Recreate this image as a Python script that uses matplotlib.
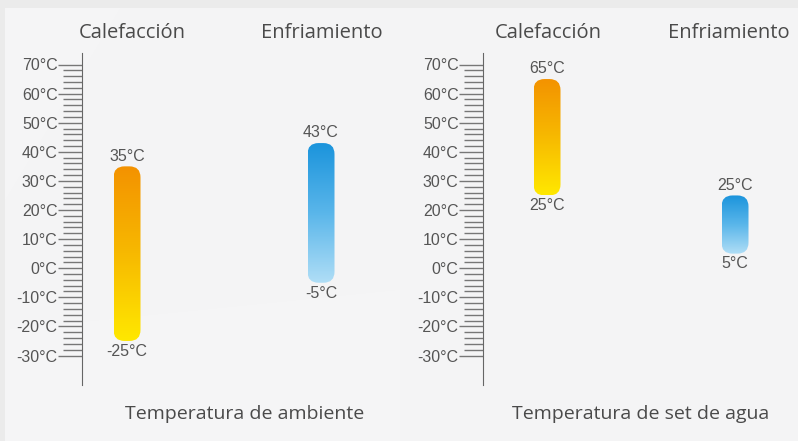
"""Rango de temperatura de funcionamiento: ambiente y agua."""
import matplotlib
matplotlib.use("Agg")
import matplotlib.pyplot as plt
from matplotlib.patches import FancyBboxPatch, Rectangle
from matplotlib.colors import LinearSegmentedColormap
from matplotlib.ticker import FixedLocator, FuncFormatter
import numpy as np

# ── data ─────────────────────────────────────────────────────────────
modes = ["Calefacción", "Enfriamiento"]
panels = ["Temperatura de ambiente", "Temperatura de set de agua"]
ambient_low = [-25, -5]
ambient_high = [35, 43]
water_low = [25, 5]
water_high = [65, 25]
major_ticks = [-30, -20, -10, 0, 10, 20, 30, 40, 50, 60, 70]

# ── layout (pixels of the 798x441 canvas) ────────────────────────────
W, H = 798, 441
PX_PER_DEG = 2.91          # vertical scale
Y70 = 64.5                 # pixel row of 70°C
panel_x0 = [0, 399]
axis_x = [82, 483]
bar_x = [[127, 321], [547, 735]]
head_x = [[132, 322], [548, 729]]
title_x = [245, 641]
BAR_W = 27
RADIUS = 11

ORANGE = LinearSegmentedColormap.from_list("heat", ["#ffe800", "#f7b900", "#f39200"])
BLUE = LinearSegmentedColormap.from_list("cool", ["#b0def6", "#5ab6ea", "#1b94dc"])

TXT = "#4a4a4a"
LBL = "#555555"
NUM_FONT = ["Liberation Sans", "DejaVu Sans"]
HEAD_FONT = ["Open Sans", "DejaVu Sans"]

y_top = 70 + Y70 / PX_PER_DEG
y_bot = 70 - (H - Y70) / PX_PER_DEG


def py(pix):
    """pixel row -> °C on the shared vertical scale"""
    return y_top - pix / PX_PER_DEG


fig = plt.figure(figsize=(W / 100, H / 100), dpi=100)
fig.patch.set_facecolor("#ebebeb")
bg = fig.add_axes([0, 0, 1, 1], zorder=-5)
bg.set_xlim(0, W); bg.set_ylim(H, 0); bg.axis("off")
bg.add_patch(Rectangle((5, 8), W, H, facecolor="#f4f4f5", edgecolor="none"))
# faint light sheen like the photo backdrop
bg.fill([5, 5, 150, 400, 400], [330, 441, 441, 441, 290], color="white", alpha=0.18, lw=0)
bg.fill([5, 5, 120], [8, 200, 8], color="white", alpha=0.15, lw=0)


def draw_bar(ax, x, lo, hi, cmap):
    patch = FancyBboxPatch((x - BAR_W / 2, lo), BAR_W, hi - lo,
                           boxstyle=f"round,pad=0,rounding_size={RADIUS}",
                           mutation_aspect=1 / PX_PER_DEG,
                           facecolor="none", edgecolor="none")
    ax.add_patch(patch)
    grad = np.linspace(0, 1, 256).reshape(-1, 1)
    im = ax.imshow(grad, cmap=cmap, origin="lower", aspect="auto",
                   extent=[x - BAR_W / 2, x + BAR_W / 2, lo, hi], zorder=3)
    im.set_clip_path(patch)
    ax.annotate(f"{hi}°C", (x, hi), xytext=(0, 2), textcoords="offset points",
                ha="center", va="bottom", fontsize=11.5, color=LBL, family=NUM_FONT)
    ax.annotate(f"{lo}°C", (x, lo), xytext=(0, -2), textcoords="offset points",
                ha="center", va="top", fontsize=11.5, color=LBL, family=NUM_FONT)


datasets = [(ambient_low, ambient_high), (water_low, water_high)]
for p in range(2):
    x0 = panel_x0[p]
    ax = fig.add_axes([x0 / W, 0, 399 / W, 1])
    ax.set_facecolor("none")
    lows, highs = datasets[p]
    for i, cmap in enumerate([ORANGE, BLUE]):
        draw_bar(ax, bar_x[p][i], lows[i], highs[i], cmap)

    # thermometer scale
    for s in ["top", "right", "bottom"]:
        ax.spines[s].set_visible(False)
    ax.spines["left"].set_position(("data", axis_x[p]))
    ax.spines["left"].set_bounds(-40, 74)
    ax.spines["left"].set_color("#666666")
    ax.yaxis.set_major_locator(FixedLocator(major_ticks))
    ax.yaxis.set_minor_locator(FixedLocator(
        [v for v in range(-30, 71, 2) if v % 10 != 0]))
    ax.yaxis.set_major_formatter(FuncFormatter(lambda v, _: f"{v:.0f}°C"))
    ax.yaxis.set_minor_formatter(FuncFormatter(lambda v, _: ""))
    ax.tick_params(axis="y", which="major", length=17.5, width=1, color="#777777",
                   pad=0, labelsize=11.5, labelcolor=LBL)
    ax.tick_params(axis="y", which="minor", length=13.5, width=1, color="#777777")
    for t in ax.get_yticklabels():
        t.set_family(NUM_FONT)
    ax.set_xticks([])
    ax.set_xlim(x0, x0 + 399)
    ax.set_ylim(y_bot, y_top)

    for i, m in enumerate(modes):
        ax.text(head_x[p][i], py(33), m, ha="center", va="center",
                fontsize=14.5, color=TXT, family=HEAD_FONT)
    ax.text(title_x[p], py(414), panels[p], ha="center", va="center",
            fontsize=14, color=TXT, family=HEAD_FONT)

fig.savefig("out.png", dpi=100, facecolor=fig.get_facecolor())
